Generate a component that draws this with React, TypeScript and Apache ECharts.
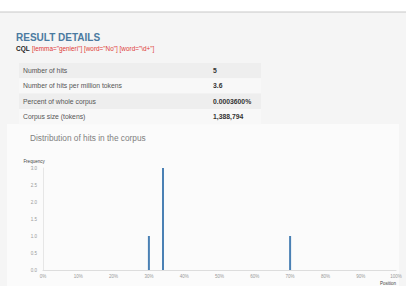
import React, { useEffect, useRef } from "react";
import * as echarts from "echarts";

const tableLabels = ["Number of hits", "Number of hits per million tokens", "Percent of whole corpus", "Corpus size (tokens)"];
const tableValues = ["5", "3.6", "0.0003600%", "1,388,794"];
const positions = [30, 34, 70];
const frequencies = [1, 3, 1];
const cqlQuery = '[lemma="genieri"] [word="No"] [word="\\d+"]';

const FONT = "Liberation Sans, Arial, Helvetica, sans-serif";

export default function App() {
  const ref = useRef<HTMLDivElement>(null);
  useEffect(() => {
    if (!ref.current) return;
    const chart = echarts.init(ref.current, null, { renderer: "svg" });
    const rowTop = 63;
    const rowH = 15.3;
    const graphics: any[] = [
      { type: "rect", shape: { x: 0, y: 12, width: 406, height: 274 }, style: { fill: "#f5f5f5" }, z: -10 },
      { type: "line", shape: { x1: 0, y1: 12, x2: 406, y2: 12 }, style: { stroke: "#c8c8c8", lineWidth: 1 }, z: -9 },
      { type: "rect", shape: { x: 7, y: 124, width: 392, height: 162 }, style: { fill: "#fbfbfb" }, z: -9 },
      { type: "text", x: 16, y: 37, style: { text: "RESULT DETAILS", fill: "#4a7aa0", font: `bold 10px ${FONT}`, verticalAlign: "middle" } },
      { type: "text", x: 16, y: 48, style: { text: "CQL", fill: "#222", font: `bold 6.5px ${FONT}`, verticalAlign: "middle" } },
      { type: "text", x: 32, y: 48, style: { text: cqlQuery, fill: "#e03a35", font: `6.4px ${FONT}`, verticalAlign: "middle" } },
      { type: "text", x: 30, y: 138, style: { text: "Distribution of hits in the corpus", fill: "#808080", font: `8.3px ${FONT}`, verticalAlign: "middle" } },
    ];
    tableLabels.forEach((lab, i) => {
      const y = rowTop + i * rowH;
      graphics.push({ type: "rect", shape: { x: 19, y, width: 242, height: rowH }, style: { fill: i % 2 === 0 ? "#eeeeee" : "#f8f8f8" }, z: -8 });
      graphics.push({ type: "text", x: 23, y: y + rowH / 2, style: { text: lab, fill: "#555", font: `6.8px ${FONT}`, verticalAlign: "middle" } });
      graphics.push({ type: "text", x: 213, y: y + rowH / 2, style: { text: tableValues[i], fill: "#333", font: `bold 6.8px ${FONT}`, verticalAlign: "middle" } });
    });
    chart.setOption({
      animation: false,
      graphic: graphics,
      grid: { left: 43, right: 10, top: 168, bottom: 16 },
      xAxis: {
        type: "value",
        min: 0,
        max: 100,
        interval: 10,
        name: "Position",
        nameLocation: "end",
        nameGap: 0,
        nameTextStyle: { fontSize: 4.5, color: "#444", fontFamily: FONT, align: "right", verticalAlign: "top", padding: [11, 0, 0, 0] },
        axisLine: { show: true, lineStyle: { color: "#ddd", width: 1 } },
        axisTick: { show: false },
        splitLine: { show: false },
        axisLabel: { formatter: "{value}%", fontSize: 4.5, color: "#999", fontFamily: FONT, margin: 4 },
      },
      yAxis: {
        type: "value",
        min: 0,
        max: 3,
        interval: 0.5,
        name: "Frequency",
        nameLocation: "end",
        nameGap: 4,
        nameTextStyle: { fontSize: 4.5, color: "#444", fontFamily: FONT, align: "center", padding: [0, 18, 0, 0] },
        axisLine: { show: true, lineStyle: { color: "#e6e6e6", width: 1 } },
        axisTick: { show: false },
        splitLine: { show: false },
        axisLabel: { formatter: (v: number) => v.toFixed(1), fontSize: 4.5, color: "#999", fontFamily: FONT, margin: 6 },
      },
      series: [
        {
          type: "bar",
          data: positions.map((p, i) => [p, frequencies[i]]),
          barWidth: 2,
          itemStyle: { color: "#4a80b4" },
        },
      ],
    });
    return () => chart.dispose();
  }, []);
  return <div ref={ref} style={{ position: "fixed", left: 0, top: 0, width: 406, height: 286, background: "#fff" }} />;
}
